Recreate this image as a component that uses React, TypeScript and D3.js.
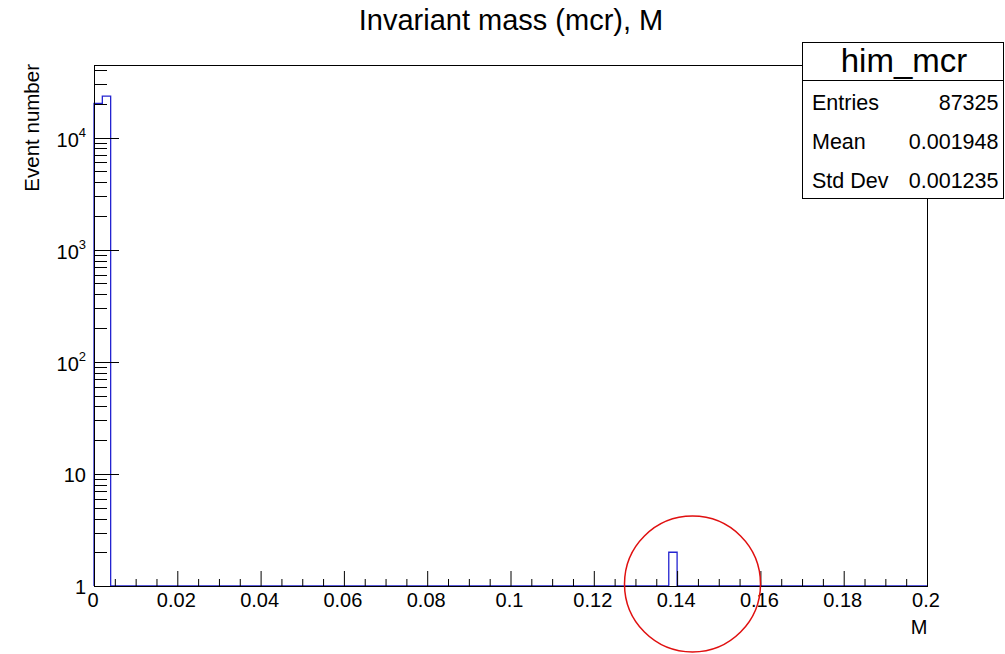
import React from "react";
import * as d3 from "d3";

// ---- data ----
const binWidth = 0.002;
const nBins = 100;
const filledBinStarts = [0.0, 0.002, 0.138];
const filledBinCounts = [20200, 23400, 2];

const xMajorTicks = [0, 0.02, 0.04, 0.06, 0.08, 0.1, 0.12, 0.14, 0.16, 0.18, 0.2];
const xTickLabels = ["0", "0.02", "0.04", "0.06", "0.08", "0.1", "0.12", "0.14", "0.16", "0.18", "0.2"];
const yDecades = [0, 1, 2, 3, 4];
const yMinorMultipliers = [2, 3, 4, 5, 6, 7, 8, 9];

const statsRows = [
  { label: "Entries", value: "87325" },
  { label: "Mean", value: "0.001948" },
  { label: "Std Dev", value: "0.001235" },
];

const W = 1005;
const H = 654;
const FONT = "'Liberation Sans', Arial, Helvetica, sans-serif";
const HIST = "#2424d0";

export default function App() {
  const left = 94, right = 927, top = 65, bottom = 586;
  const x = d3.scaleLinear().domain([0, 0.2]).range([left, right]);
  const yMax = 44400;
  const y = d3.scaleLog().domain([1, yMax]).range([bottom, top]);

  // full bin contents (empty bins = 0)
  const counts: number[] = Array.from({ length: nBins }, () => 0);
  filledBinStarts.forEach((s, i) => {
    const idx = Math.round(s / binWidth);
    counts[idx] = filledBinCounts[i];
  });
  const yOf = (c: number) => (c >= 1 ? y(c) : bottom);

  let d = `M${x(0)},${bottom}`;
  counts.forEach((c, i) => {
    d += `V${yOf(c)}H${x((i + 1) * binWidth)}`;
  });
  d += `V${bottom}`;

  // x minor ticks every 0.005
  const xMinor: number[] = [];
  for (let i = 0; i <= 40; i++) {
    if (i % 4 !== 0) xMinor.push(i * 0.005);
  }

  // y minor ticks
  const yMinor: number[] = [];
  yDecades.forEach((k) => {
    yMinorMultipliers.forEach((m) => {
      const v = m * Math.pow(10, k);
      if (v <= yMax) yMinor.push(v);
    });
  });

  const boxL = 802.5, boxR = 1003.5, boxT = 42.5, boxB = 198.5, sepY = 80.5;
  const rowBaselines = [110, 149, 188];

  return (
    <svg width={W} height={H} style={{ position: "absolute", left: 0, top: 0, background: "#fff" }} fontFamily={FONT}>
      <rect x={0} y={0} width={W} height={H} fill="#fff" />
      {/* title */}
      <text x={511} y={30} fontSize={29} textAnchor="middle" fill="#000">Invariant mass (mcr), M</text>

      {/* histogram */}
      <path d={d} fill="none" stroke={HIST} strokeWidth={1.3} />

      {/* frame */}
      <rect x={left + 0.5} y={top + 0.5} width={right - left} height={bottom - top} fill="none" stroke="#000" strokeWidth={1} />

      {/* ticks */}
      <g stroke="#000" strokeWidth={1}>
        {xMajorTicks.map((v, i) => (
          <line key={"xM" + i} x1={x(v) + 0.5} x2={x(v) + 0.5} y1={bottom} y2={bottom - 15} />
        ))}
        {xMinor.map((v, i) => (
          <line key={"xm" + i} x1={x(v) + 0.5} x2={x(v) + 0.5} y1={bottom} y2={bottom - 7} />
        ))}
        {yDecades.map((k) => (
          <line key={"yM" + k} x1={left} x2={left + 25} y1={Math.round(y(Math.pow(10, k))) + 0.5} y2={Math.round(y(Math.pow(10, k))) + 0.5} />
        ))}
        {yMinor.map((v, i) => (
          <line key={"ym" + i} x1={left} x2={left + 13} y1={Math.round(y(v)) + 0.5} y2={Math.round(y(v)) + 0.5} />
        ))}
      </g>

      {/* x labels */}
      {xMajorTicks.map((v, i) => (
        <text key={"xl" + i} x={x(v) - 1} y={607} fontSize={20} textAnchor="middle" fill="#000">{xTickLabels[i]}</text>
      ))}
      <text x={927.5} y={634} fontSize={20} textAnchor="end" fill="#000">M</text>

      {/* y labels */}
      {yDecades.map((k) => {
        const ty = y(Math.pow(10, k));
        if (k === 0) return <text key={"yl" + k} x={86} y={ty + 8} fontSize={20} textAnchor="end" fill="#000">1</text>;
        if (k === 1) return <text key={"yl" + k} x={86} y={ty + 8} fontSize={20} textAnchor="end" fill="#000">10</text>;
        return (
          <text key={"yl" + k} x={86} y={ty + 9} fontSize={20} textAnchor="end" fill="#000">
            10<tspan fontSize={13} dy={-10}>{k}</tspan>
          </text>
        );
      })}
      <text transform={`translate(39,64) rotate(-90)`} fontSize={20.5} textAnchor="end" fill="#000">Event number</text>

      {/* stats box */}
      <rect x={boxL} y={boxT} width={boxR - boxL} height={boxB - boxT} fill="#fff" stroke="#000" strokeWidth={1} />
      <line x1={boxL} x2={boxR} y1={sepY} y2={sepY} stroke="#000" strokeWidth={1} />
      <text x={904} y={72} fontSize={33} textAnchor="middle" fill="#000">him_mcr</text>
      {statsRows.map((r, i) => (
        <g key={"sr" + i}>
          <text x={812} y={rowBaselines[i]} fontSize={21.5} fill="#000">{r.label}</text>
          <text x={998.5} y={rowBaselines[i]} fontSize={21.5} textAnchor="end" fill="#000">{r.value}</text>
        </g>
      ))}

      {/* red annotation circle */}
      <circle cx={692.5} cy={584} r={68} fill="none" stroke="#e01010" strokeWidth={1.5} />
    </svg>
  );
}
